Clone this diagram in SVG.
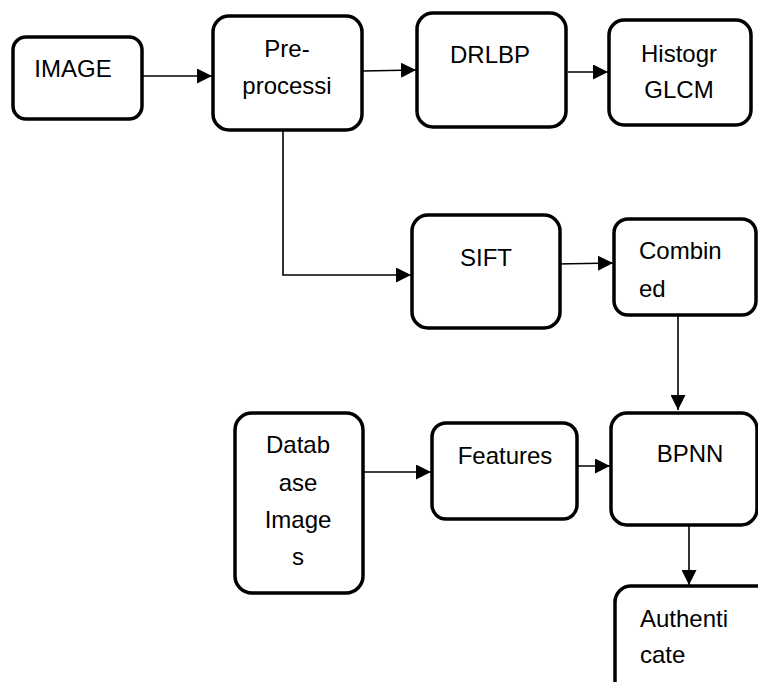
<svg xmlns="http://www.w3.org/2000/svg" width="758" height="682" viewBox="0 0 758 682">
<defs>
<style>
.box{fill:#fff;stroke:#000;stroke-width:3.5}
.t{font-family:"Liberation Sans",Arial,sans-serif;font-size:24px;fill:#000}
.c{text-anchor:middle}
.ln{fill:none;stroke:#000;stroke-width:1.6;marker-end:url(#ah)}
</style>
<marker id="ah" markerUnits="userSpaceOnUse" markerWidth="16" markerHeight="15" refX="15" refY="7.5" orient="auto">
<path d="M0,0 L15,7.5 L0,15 Z" fill="#000"/>
</marker>
</defs>
<rect width="758" height="682" fill="#fff"/>
<g id="connectors">
<line class="ln" x1="142" y1="76" x2="212" y2="76"/>
<line class="ln" x1="362" y1="71" x2="416" y2="70"/>
<line class="ln" x1="568" y1="72" x2="608" y2="72"/>
<polyline class="ln" points="283,130 283,275 411,275"/>
<line class="ln" x1="557" y1="264" x2="613" y2="263"/>
<line class="ln" x1="678" y1="315" x2="678" y2="410"/>
<line class="ln" x1="363" y1="472" x2="431" y2="472"/>
<line class="ln" x1="572" y1="466" x2="610" y2="466"/>
<line class="ln" x1="689" y1="525" x2="689" y2="585"/>
</g>
<g id="image">
<rect class="box" x="13" y="37" width="129" height="82" rx="13"/>
<text class="t c" x="73" y="77">IMAGE</text>
</g>
<g id="preprocessing">
<rect class="box" x="213" y="16" width="149" height="114" rx="16"/>
<text class="t c" x="287" y="57">Pre-</text>
<text class="t c" x="287" y="94">processi</text>
</g>
<g id="drlbp">
<rect class="box" x="417" y="13" width="149" height="114" rx="16"/>
<text class="t c" x="490" y="63">DRLBP</text>
</g>
<g id="histogram">
<rect class="box" x="609" y="20" width="142" height="105" rx="15"/>
<text class="t c" x="679" y="62">Histogr</text>
<text class="t c" x="679" y="98">GLCM</text>
</g>
<g id="sift">
<rect class="box" x="412" y="215" width="148" height="113" rx="16"/>
<text class="t c" x="486" y="266">SIFT</text>
</g>
<g id="combined">
<rect class="box" x="614" y="219" width="142" height="96" rx="14"/>
<text class="t" x="639" y="259">Combin</text>
<text class="t" x="639" y="297">ed</text>
</g>
<g id="database">
<rect class="box" x="235" y="413" width="128" height="180" rx="17"/>
<text class="t c" x="298" y="453">Datab</text>
<text class="t c" x="298" y="491">ase</text>
<text class="t c" x="298" y="528">Image</text>
<text class="t c" x="298" y="565">s</text>
</g>
<g id="features">
<rect class="box" x="432" y="423" width="145" height="96" rx="14"/>
<text class="t c" x="505" y="464">Features</text>
</g>
<g id="bpnn">
<rect class="box" x="611" y="413" width="146" height="112" rx="16"/>
<text class="t c" x="690" y="462">BPNN</text>
</g>
<g id="authenticate">
<rect class="box" x="615" y="586" width="160" height="120" rx="16"/>
<text class="t" x="640" y="627">Authenti</text>
<text class="t" x="640" y="663">cate</text>
</g>
</svg>
